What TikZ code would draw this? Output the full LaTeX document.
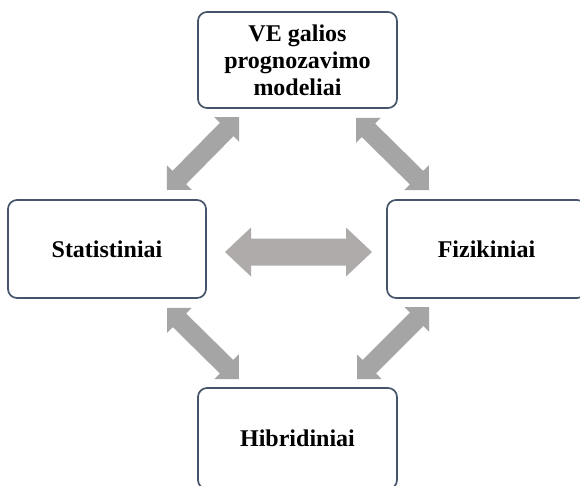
\documentclass[tikz,border=0pt]{standalone}
\usepackage{fontspec}
\setmainfont{Liberation Serif}
\usetikzlibrary{calc}
\definecolor{boxline}{HTML}{44546A}
\definecolor{arrgrey}{HTML}{A5A5A5}
\definecolor{arrgreyh}{HTML}{AFABAB}
\newcommand\dblarrow[6]{%
  \fill[#6] (#1)
    -- ($(#1)!#3!(#2)!#4!90:(#2)$)
    -- ($(#1)!#3!(#2)!#5!90:(#2)$)
    -- ($(#2)!#3!(#1)!#5!-90:(#1)$)
    -- ($(#2)!#3!(#1)!#4!-90:(#1)$)
    -- (#2)
    -- ($(#2)!#3!(#1)!#4!90:(#1)$)
    -- ($(#2)!#3!(#1)!#5!90:(#1)$)
    -- ($(#1)!#3!(#2)!#5!-90:(#2)$)
    -- ($(#1)!#3!(#2)!#4!-90:(#2)$)
    -- cycle;}
\tikzset{
  modelbox/.style={draw=boxline, line width=1.7pt, rounded corners=9pt, fill=white,
    align=center, inner sep=0pt, text=black,
    font=\fontsize{24}{27}\selectfont\bfseries}
}
\begin{document}
\begin{tikzpicture}[x=1pt,y=-1pt]
\useasboundingbox (0,0) rectangle (580,485);
\clip (0,0) rectangle (580,485);
\fill[white] (0,0) rectangle (580,485);
\node[modelbox, minimum width=199pt, minimum height=96pt] (top) at (297.5,60) {VE galios\\prognozavimo\\modeliai};
\node[modelbox, minimum width=198pt, minimum height=98pt] (left) at (107,249) {Statistiniai};
\node[modelbox, minimum width=199pt, minimum height=98pt] (right) at (486.5,249) {Fizikiniai};
\node[modelbox, minimum width=199pt, minimum height=101pt] (bottom) at (297.5,438.5) {Hibridiniai};
% arrow end points
\coordinate (tlA) at (239,117); \coordinate (tlB) at (167,190);
\coordinate (trA) at (356,118); \coordinate (trB) at (429,190);
\coordinate (blA) at (167,308); \coordinate (blB) at (239,379);
\coordinate (brA) at (429,307); \coordinate (brB) at (357,379);
\coordinate (hA) at (225,252); \coordinate (hB) at (372,252);
\dblarrow{tlA}{tlB}{17.5pt}{17.5pt}{9.5pt}{arrgrey}
\dblarrow{trA}{trB}{17.5pt}{17.5pt}{9.5pt}{arrgrey}
\dblarrow{blA}{blB}{17.5pt}{17.5pt}{9.5pt}{arrgrey}
\dblarrow{brA}{brB}{17.5pt}{17.5pt}{9.5pt}{arrgrey}
\dblarrow{hA}{hB}{26pt}{24.5pt}{13.5pt}{arrgreyh}
\end{tikzpicture}
\end{document}
